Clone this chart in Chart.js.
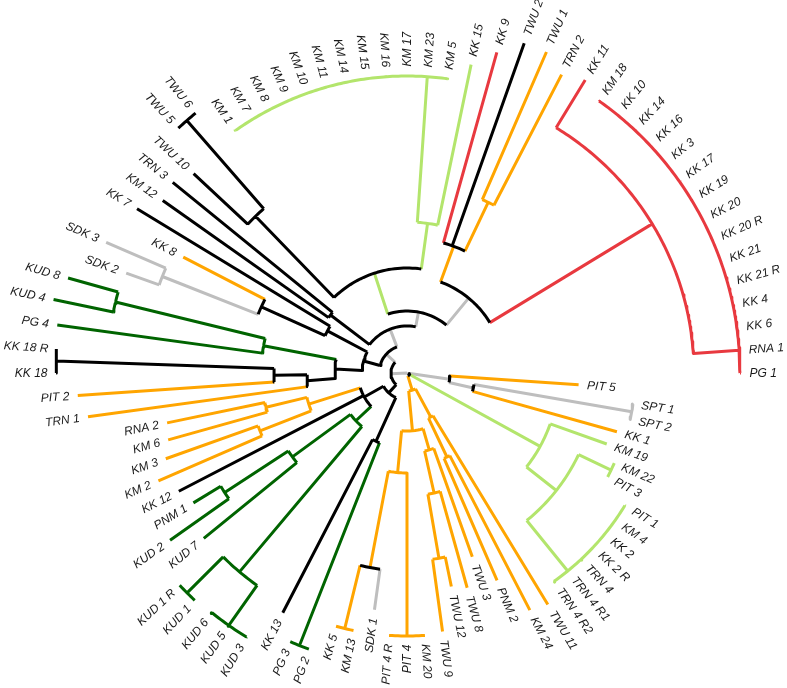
<!DOCTYPE html>
<html><head><meta charset="utf-8">
<script src="https://cdn.jsdelivr.net/npm/chart.js@4.4.1/dist/chart.umd.min.js"></script>
<style>html,body{margin:0;padding:0;background:#fff;overflow:hidden}canvas{display:block}</style>
</head><body>
<canvas id="c" width="787" height="688"></canvas>
<script>
// ---- DATA ----
// leaf labels in angular order (clockwise from just below the 3 o'clock position)
const leafLabels = ['PIT 5','SPT 1','SPT 2','KK 1','KM 19','KM 22','PIT 3','PIT 1','KM 4','KK 2','KK 2 R','TRN 4','TRN 4 R1','TRN 4 R2','TWU 11','KM 24','PNM 2','TWU 3','TWU 8','TWU 12','TWU 9','KM 20','PIT 4','PIT 4 R','SDK 1','KM 13','KK 5','PG 2','PG 3','KK 13','KUD 3','KUD 5','KUD 6','KUD 1','KUD 1 R','KUD 7','KUD 2','PNM 1','KK 12','KM 2','KM 3','KM 6','RNA 2','TRN 1','PIT 2','KK 18','KK 18 R','PG 4','KUD 4','KUD 8','SDK 2','SDK 3','KK 8','KK 7','KM 12','TRN 3','TWU 10','TWU 5','TWU 6','KM 1','KM 7','KM 8','KM 9','KM 10','KM 11','KM 14','KM 15','KM 16','KM 17','KM 23','KM 5','KK 15','KK 9','TWU 2','TWU 1','TRN 2','KK 11','KM 18','KK 10','KK 14','KK 16','KK 3','KK 17','KK 19','KK 20','KK 20 R','KK 21','KK 21 R','KK 4','KK 6','RNA 1','PG 1'];
// distance of each tip from the root (same order)
const tipDepth = [172,228,228,218,212,226,226,256,256,256,256,256,256,256,271,267,226,195,223,218,261,263,263,263,239,263,263,293,293,270,310,310,310,311,311,262,290,250,257,271,256,248,245,322,330,351,351,353,361,352,298,328,252,316,299,302,292,335,335,298,298,298,298,298,298,298,298,298,298,298,298,315,333,350,350,336,343,334,334,334,334,334,334,334,334,334,334,334,334,334,334,334];
// branch colour group of each tip: k black, r red, o orange, g light green, d dark green, s grey
const tipColor = ['o','s','s','o','g','g','g','g','g','g','g','g','g','g','o','o','o','o','o','o','o','o','o','o','s','o','o','d','d','k','d','d','d','d','d','d','d','d','k','o','o','o','o','o','o','k','k','d','d','d','s','s','o','k','k','k','k','k','k','g','g','g','g','g','g','g','g','g','g','g','g','g','r','k','o','o','r','r','r','r','r','r','r','r','r','r','r','r','r','r','r','r'];
// unresolved (zero-length) groups drawn as ladders
const ladderKM  = ['KM 1','KM 7','KM 8','KM 9','KM 10','KM 11','KM 14','KM 15','KM 16','KM 17','KM 23','KM 5'];
const ladderPIT = ['PIT 1','KM 4','KK 2','KK 2 R','TRN 4','TRN 4 R1','TRN 4 R2'];
const ladderKK  = ['KM 18','KK 10','KK 14','KK 16','KK 3','KK 17','KK 19','KK 20','KK 20 R','KK 21','KK 21 R','KK 4','KK 6','RNA 1','PG 1'];
const ladderDepth = {KM:297, PIT:255, KK:333};
// topology: internal node = (children)[depth,edgeColour,arcColour]
const tree = `((
 (PIT_5,((SPT_1,SPT_2)[228,s,s],KK_1)[68,s,k])[43,s,k],
 (KM_19,((KM_22,PIT_3)[226,g,g],$PIT)[190,g,g])[152,g,g],
 (
  ((TWU_3,(TWU_8,(TWU_12,TWU_9)[188,o,o])[123,o,o])[80,o,o],
   ((KM_20,PIT_4,PIT_4_R)[263,o,o],(SDK_1,(KM_13,KK_5)[263,o,o])[198,o,k])[100,o,o]
  )[58,o,o],
  (TWU_11,(KM_24,PNM_2)[93,o,o])[50,o,o]
 )[18,o,o]
)[3,s,k],
(
 (
  ((PG_2,PG_3)[293,d,d],KK_13)[75,k,k],
  (
   (
    ((KUD_3,KUD_5,KUD_6)[309,d,d],(KUD_1,KUD_1_R)[311,d,d])[260,d,d],
    (KUD_7,(KUD_2,PNM_1)[218,d,d])[142,d,d]
   )[70,d,d],
   KK_12,
   ((KM_2,KM_3)[158,o,o],(KM_6,RNA_2)[145,o,o])[103,o,o]
  )[49,k,k]
 )[27,k,k],
 (
  (
   (
    (TRN_1,(PIT_2,(KK_18,KK_18_R)[351,k,k])[133,k,k])[100,k,k],
    (PG_4,(KUD_4,KUD_8)[300,d,d])[146,d,d]
   )[72,k,k],
   (((SDK_2,SDK_3)[263,s,s],KK_8)[160,k,k],KK_7)[90,k,k]
  )[45,k,k],
  (
   (KM_12,TRN_3)[96,k,k],
   (
    (
     (TWU_10,(TWU_5,TWU_6)[335,k,k])[218,k,k],
     ($KM,KK_15)[151,g,g]
    )[105,g,k],
    (
     (KK_9,TWU_2,(TWU_1,TRN_2)[189,o,o])[135,o,k],
     (KK_11,$KK)[287,r,r]
    )[97,s,k]
   )[62,s,k]
  )[47,s,k]
 )[28,s,k]
)[16,s,k]
)[0,s,k]`;

// ---- STYLE ----
const palette = {k:'#000000', r:'#E8393F', o:'#FFA500', g:'#B3E56C', d:'#006400', s:'#BEBEBE'};
const drawOrder = ['k','r','o','g','d','s'];

// ---- BUILD ----
function ladder(names, depth, col){
  let s = names[0].replace(/ /g,'_');
  for (let i=1;i<names.length;i++) s = '('+s+','+names[i].replace(/ /g,'_')+')['+depth+','+col+','+col+']';
  return s;
}
const src = tree
  .replace('$KM', ladder(ladderKM, ladderDepth.KM, 'g'))
  .replace('$PIT', ladder(ladderPIT, ladderDepth.PIT, 'g'))
  .replace('$KK', ladder(ladderKK, ladderDepth.KK, 'r'))
  .replace(/\s+/g,'');

function parse(str){
  let i=0;
  function node(){
    if (str[i]==='('){
      i++; const ch=[node()];
      while (str[i]===','){ i++; ch.push(node()); }
      i++; // )
      i++; // [
      const j=str.indexOf(']',i); const p=str.slice(i,j).split(','); i=j+1;
      return {ch, depth:+p[0], edge:p[1], arc:p[2]||p[1]};
    }
    let j=i; while (j<str.length && !',()['.includes(str[j])) j++;
    const name=str.slice(i,j).replace(/_/g,' '); i=j;
    const k=leafLabels.indexOf(name);
    return {leaf:k, name, depth:tipDepth[k], edge:tipColor[k]};
  }
  return node();
}
const root = parse(src);
const N = leafLabels.length;
function layout(n){
  if (n.ch){ n.ch.forEach(layout); n.theta = n.ch.reduce((a,c)=>a+c.theta,0)/n.ch.length; }
  else n.theta = (n.leaf+1)*360/N;
}
layout(root);

const series = {}; drawOrder.forEach(c=>series[c]=[]);
const rad = d=>d*Math.PI/180;
const pt = (r,t)=>({x:r*Math.cos(rad(t)), y:-r*Math.sin(rad(t))});
function addSeg(col, pts){ series[col].push(...pts, {x:NaN,y:NaN}); }
function walk(n){
  if (!n.ch) return;
  const ts=n.ch.map(c=>c.theta), t0=Math.min(...ts), t1=Math.max(...ts);
  if (n.depth>0 && t1>t0){
    const len = n.depth*rad(t1-t0);
    const steps=Math.max(1,Math.ceil(len/3));
    const pts=[];
    for (let s=0;s<=steps;s++) pts.push(pt(n.depth, t0+(t1-t0)*s/steps));
    addSeg(n.arc, pts);
  }
  n.ch.forEach(c=>{
    if (c.depth>n.depth) addSeg(c.edge, [pt(n.depth,c.theta), pt(c.depth,c.theta)]);
    walk(c);
  });
}
walk(root);
const leaves=[]; (function col(n){ if(n.ch) n.ch.forEach(col); else leaves.push(n); })(root);

const labelPlugin = {
  id:'tipLabels',
  afterDatasetsDraw(chart){
    const ctx=chart.ctx, xs=chart.scales.x, ys=chart.scales.y;
    ctx.save();
    ctx.font='italic 12px "Liberation Sans", Arial, sans-serif';
    ctx.fillStyle='#1a1a1a';
    ctx.textBaseline='middle';
    leaves.forEach(l=>{
      const p=pt(l.depth+8.5, l.theta);
      const px=xs.getPixelForValue(p.x), py=ys.getPixelForValue(p.y);
      ctx.save(); ctx.translate(px,py);
      if (l.theta>=90 && l.theta<270){ ctx.rotate(rad(l.theta-180)); ctx.textAlign='right'; }
      else { ctx.rotate(rad(l.theta)); ctx.textAlign='left'; }
      ctx.fillText(l.name,0,0.5);
      ctx.restore();
    });
    ctx.restore();
  }
};

new Chart(document.getElementById('c'), {
  type:'scatter',
  data:{ datasets: drawOrder.map((c,i)=>({
    data: series[c], showLine:true, spanGaps:false, borderColor:palette[c], backgroundColor:palette[c],
    borderWidth:3, pointRadius:0, borderCapStyle:'butt', borderJoinStyle:'round', order:i, tension:0
  }))},
  options:{
    responsive:false, animation:false, events:[],
    layout:{padding:0},
    plugins:{legend:{display:false}, tooltip:{enabled:false}},
    scales:{
      x:{type:'linear', min:-407, max:380, display:false},
      y:{type:'linear', min:-315, max:373, display:false}
    }
  },
  plugins:[labelPlugin]
});
</script>
</body></html>
